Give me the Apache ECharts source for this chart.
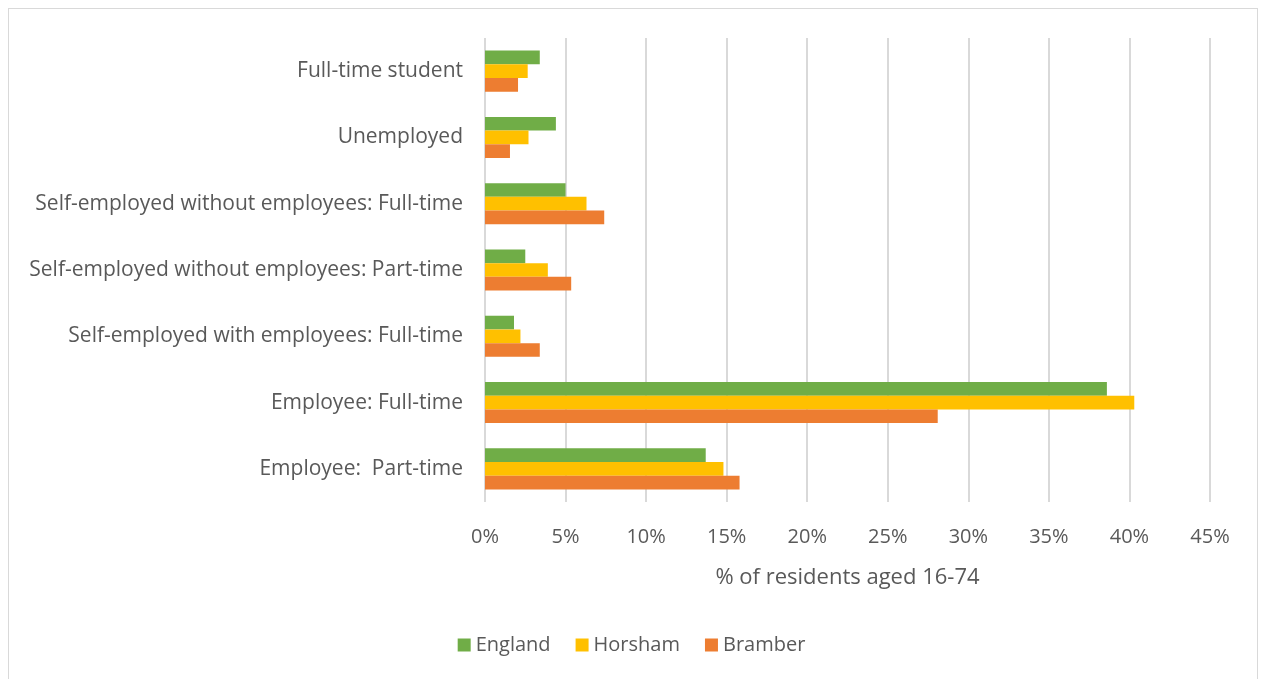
<!DOCTYPE html>
<html>
<head>
<meta charset="utf-8">
<script src="https://cdn.jsdelivr.net/npm/echarts@6/dist/echarts.min.js"></script>
<style>
html,body{margin:0;padding:0;background:#fff;}
#frame{position:absolute;left:8px;top:8px;width:1250px;height:680px;border:1px solid #d9d9d9;box-sizing:border-box;}
#chart{position:absolute;left:0;top:0;width:1263px;height:679px;}
</style>
</head>
<body>
<div id="frame"></div>
<div id="chart"></div>
<script>
var categories = [
  "Employee:  Part-time",
  "Employee: Full-time",
  "Self-employed with employees: Full-time",
  "Self-employed without employees: Part-time",
  "Self-employed without employees: Full-time",
  "Unemployed",
  "Full-time student"
];
var england = [13.7, 38.6, 1.8, 2.5, 5.0, 4.4, 3.4];
var horsham = [14.8, 40.3, 2.2, 3.9, 6.3, 2.7, 2.65];
var bramber = [15.8, 28.1, 3.4, 5.35, 7.4, 1.55, 2.05];
var xTicks = [0, 5, 10, 15, 20, 25, 30, 35, 40, 45];

var chart = echarts.init(document.getElementById('chart'));
var font = "'Open Sans', 'Liberation Sans', sans-serif";
chart.setOption({
  animation: false,
  textStyle: {fontFamily: font},
  grid: {left: 485, right: 53, top: 38, bottom: 177},
  legend: {
    data: ['England', 'Horsham', 'Bramber'],
    bottom: 19,
    left: 'center',
    itemWidth: 13, itemHeight: 13, itemGap: 25,
    icon: 'rect',
    textStyle: {fontSize: 20, color: '#595959', fontFamily: font}
  },
  xAxis: {
    type: 'value', min: 0, max: 45, interval: 5,
    name: '% of residents aged 16-74',
    nameLocation: 'middle', nameGap: 65,
    nameTextStyle: {fontSize: 22, color: '#595959', fontFamily: font},
    axisLine: {show: false}, axisTick: {show: false},
    axisLabel: {formatter: function(v){return v + '%';}, fontSize: 20, color: '#595959', margin: 25, fontFamily: font},
    splitLine: {lineStyle: {color: '#d9d9d9', width: 2}}
  },
  yAxis: {
    type: 'category', data: categories,
    axisLine: {show: false}, axisTick: {show: false},
    axisLabel: {fontSize: 21, color: '#595959', margin: 22, fontFamily: font}
  },
  series: [
    {name: 'England', type: 'bar', data: england, itemStyle: {color: '#70ad47'}, barGap: '0%', barCategoryGap: '38%'},
    {name: 'Horsham', type: 'bar', data: horsham, itemStyle: {color: '#ffc000'}, barGap: '0%', barCategoryGap: '38%'},
    {name: 'Bramber', type: 'bar', data: bramber, itemStyle: {color: '#ed7d31'}, barGap: '0%', barCategoryGap: '38%'}
  ]
});
</script>
</body>
</html>
